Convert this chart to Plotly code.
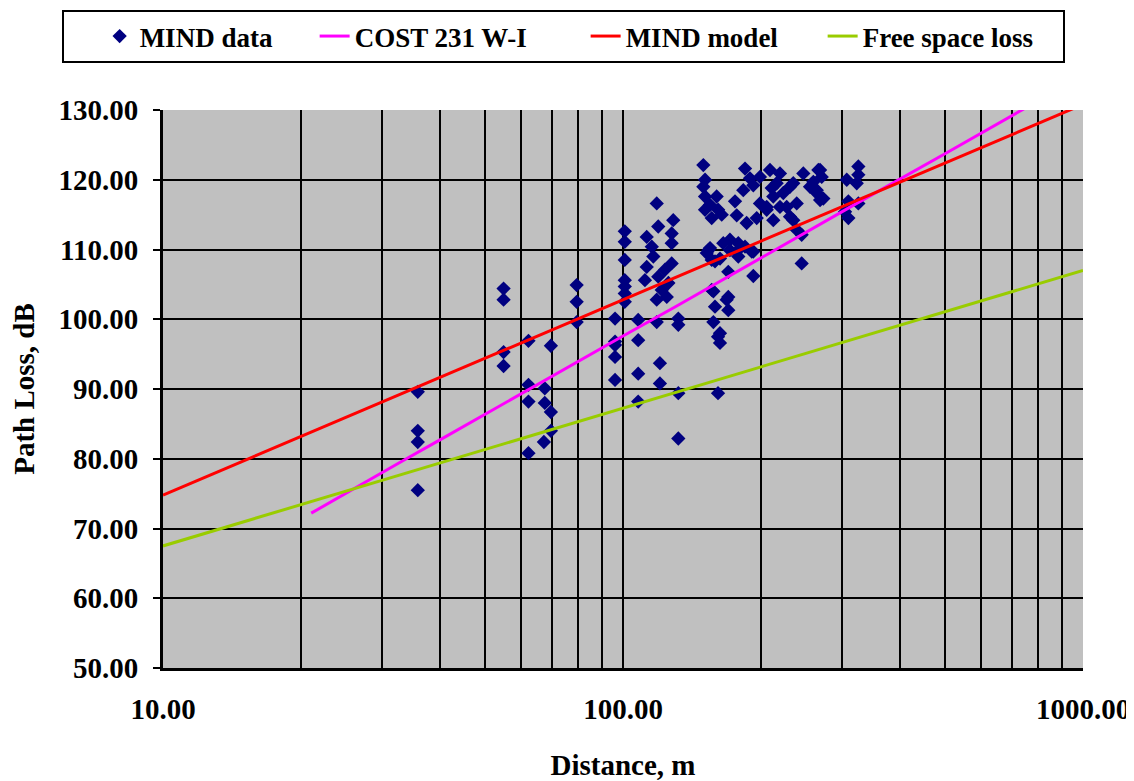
import plotly.graph_objects as go

# ---- data ----
mind_dist = [35.8, 35.8, 35.8, 35.8,
             55.0, 55.0, 55.0, 55.0,
             62.3, 62.3, 62.3, 62.3,
             67.6, 67.6, 67.3,
             69.7, 69.7, 69.7,
             79.3, 79.3, 79.3,
             96.1, 96.1, 96.1, 96.1, 96.1,
             100.9, 100.9, 100.9, 100.9, 100.9, 100.9, 100.9,
             107.9, 107.9, 107.9, 107.9,
             112.6, 112.6, 111.6,
             115.5, 116.4,
             118.4, 118.4, 118.4,
             119.3, 119.3,
             120.3, 120.3,
             121.4, 123.4, 124.5, 125.5,
             127.6, 127.6, 127.6, 128.6,
             131.9, 131.9, 131.9, 131.9,
             149.5, 149.5,
             150.8, 150.8, 150.8,
             152.1, 153.3,
             154.6, 154.6,
             155.9, 155.9, 155.9,
             157.2, 157.2,
             158.5, 158.5,
             159.8, 160.9, 160.9, 161.0,
             162.5, 162.5, 162.5,
             163.9, 165.2, 168.0,
             169.4, 169.4, 169.4,
             170.8, 170.8,
             175.2, 176.7, 176.7,
             178.1, 178.1,
             182.6, 184.2, 184.2, 185.7,
             188.8, 190.5,
             192.0, 192.0, 192.0,
             195.3, 198.5, 198.5,
             205.3, 205.3, 208.7, 210.5,
             212.2, 212.2, 215.8,
             219.4, 219.4, 223.1, 226.9,
             230.7, 230.7, 234.5, 234.5,
             238.6, 238.6, 244.6, 244.6,
             246.6, 255.0, 259.3,
             263.8, 263.8, 265.9,
             268.2, 268.2, 270.4, 272.6,
             303.9, 306.5, 309.0, 309.0,
             322.2, 324.8, 324.8, 324.8]
mind_pl = [89.6, 84.0, 82.4, 75.5,
           104.4, 102.8, 95.3, 93.3,
           96.9, 90.6, 88.2, 80.8,
           90.1, 88.0, 82.4,
           96.2, 86.7, 84.0,
           104.9, 102.5, 99.6,
           100.1, 96.8, 96.3, 94.6, 91.3,
           112.6, 111.1, 108.5, 105.6, 104.7, 103.7, 102.5,
           99.9, 97.0, 92.2, 88.2,
           111.8, 107.5, 105.6,
           110.4, 109.0,
           116.6, 102.8, 99.6,
           113.3, 106.1,
           93.7, 90.8,
           104.2, 107.1, 103.2, 105.2,
           108.0, 112.3, 110.9, 114.2,
           100.1, 99.2, 89.4, 82.9,
           122.1, 119.0,
           120.0, 117.6, 115.7,
           109.5, 109.9,
           116.4, 110.2,
           114.5, 108.5, 104.2,
           104.0, 99.6,
           108.3, 101.8,
           117.6, 97.5, 89.4, 115.7,
           98.0, 96.6, 108.7,
           115.0, 110.9, 102.8,
           106.8, 101.3, 103.2,
           109.9, 111.4,
           116.9, 114.9, 109.7,
           110.9, 109.0,
           118.5, 121.6, 110.4, 113.8,
           120.2, 109.7,
           106.2, 119.2, 109.7,
           114.5, 116.6, 120.4,
           115.7, 116.1, 121.4, 118.8,
           117.6, 114.2, 119.5,
           116.1, 120.9, 118.1, 116.1,
           119.0, 114.7, 119.5, 114.2,
           116.6, 112.8, 112.1, 108.0,
           120.9, 119.0, 119.7,
           118.1, 118.5, 121.4,
           121.4, 117.1, 120.4, 117.3,
           115.4, 120.0, 116.9, 114.5,
           119.5, 121.9, 120.7, 116.6]

cost_dist = [21, 25, 33, 40, 55, 65, 80, 100, 130, 160, 200, 260, 320, 500, 750]
cost_pl = [72.2, 75.1, 79.6, 82.7, 87.9, 90.6, 94.0, 97.6, 101.8, 105.2, 108.8, 113.1, 116.5, 123.7, 130.3]

model_dist = [10, 100, 1000]
model_pl = [74.8, 102.8, 130.8]

fsl_dist = [10, 100, 1000]
fsl_pl = [67.5, 87.2, 107.0]

x_ticks = [10, 100, 1000]
x_minor = [20, 30, 40, 50, 60, 70, 80, 90, 200, 300, 400, 500, 600, 700, 800, 900]
y_ticks = [50, 60, 70, 80, 90, 100, 110, 120, 130]

FONT = "Liberation Serif"

fig = go.Figure()
fig.add_trace(go.Scatter(x=mind_dist, y=mind_pl, mode="markers", name="MIND data",
                         legendwidth=170,
                         marker=dict(symbol="diamond", size=11, color="#000080",
                                     line=dict(width=0))))
fig.add_trace(go.Scatter(x=cost_dist, y=cost_pl, mode="lines", name="COST 231 W-I",
                         legendwidth=226,
                         line=dict(color="#FF00FF", width=3)))
fig.add_trace(go.Scatter(x=model_dist, y=model_pl, mode="lines", name="MIND model",
                         legendwidth=192,
                         line=dict(color="#FF0000", width=3)))
fig.add_trace(go.Scatter(x=fsl_dist, y=fsl_pl, mode="lines", name="Free space loss",
                         legendwidth=195,
                         line=dict(color="#99CC00", width=3)))

# page body has an 8px offset, so the figure is 8px smaller than the window
fig.update_layout(
    width=1126, height=773,
    margin=dict(l=155, r=51, t=102, b=113, autoexpand=False),
    paper_bgcolor="white", plot_bgcolor="#C0C0C0",
    font=dict(family=FONT, size=27, color="black"),
    showlegend=True,
    legend=dict(orientation="h", xref="paper", yref="paper",
                x=-0.1098, y=1.1792, xanchor="left", yanchor="top",
                bordercolor="black", borderwidth=2, bgcolor="white",
                title=dict(text="\u00a0\u00a0\u00a0\u2009", side="left",
                           font=dict(family=FONT, size=27, color="white")),
                font=dict(family=FONT, size=27, color="black", weight="bold"),
                itemclick=False),
)
fig.update_xaxes(type="log", range=[1, 3], tickvals=x_ticks,
                 ticktext=["%.2f" % v for v in x_ticks],
                 showgrid=True, gridcolor="black", gridwidth=2,
                 minor=dict(tickvals=x_minor, showgrid=True, gridcolor="black", gridwidth=2, ticks=""),
                 ticks="", ticklabelstandoff=13, automargin=False,
                 showline=True, linecolor="black", linewidth=3, mirror=False,
                 zeroline=False,
                 tickfont=dict(family=FONT, size=29, weight="bold"),
                 title=dict(text="Distance, m", standoff=47,
                            font=dict(family=FONT, size=29, weight="bold")))
fig.update_yaxes(range=[50, 130], tickvals=y_ticks, tickformat=".2f",
                 showgrid=True, gridcolor="black", gridwidth=2,
                 ticks="outside", ticklen=7, tickwidth=2, tickcolor="black",
                 ticklabelstandoff=9, automargin=False,
                 showline=True, linecolor="black", linewidth=3,
                 zeroline=False,
                 tickfont=dict(family=FONT, size=29, weight="bold"),
                 title=dict(text="Path Loss, dB", standoff=17,
                            font=dict(family=FONT, size=29, weight="bold")))

fig.write_html("out.html")
